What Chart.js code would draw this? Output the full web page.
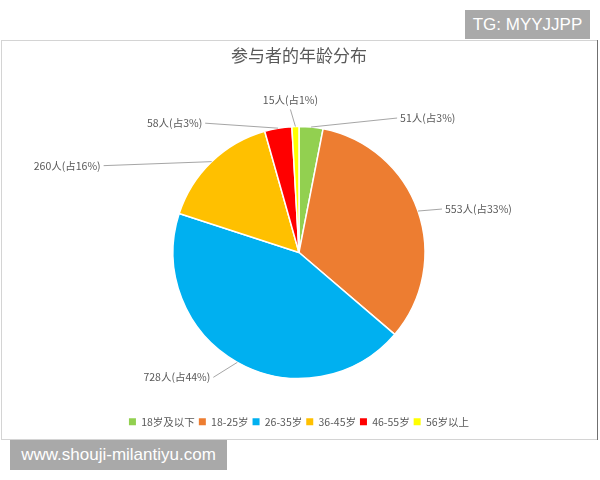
<!DOCTYPE html>
<html>
<head>
<meta charset="utf-8">
<script src="https://cdn.jsdelivr.net/npm/chart.js@4/dist/chart.umd.min.js"></script>
<style>
    body { margin: 0; background: #fff; }
    #wrap { position: relative; width: 600px; height: 480px; }
    .mark { position: absolute; background: #a9a9a9; color: #fff; font-family: "Liberation Sans", Arial, sans-serif;
            font-size: 17px; text-align: center; }
</style>
</head>
<body>
<div id="wrap">
    <canvas id="myPieChart" width="600" height="480"></canvas>
    <div class="mark" style="left:465px; top:10px; width:125px; height:29px; line-height:29px;">TG: MYYJJPP</div>
    <div class="mark" style="left:10px; top:440px; width:217px; height:30px; line-height:30px;">www.shouji-milantiyu.com</div>
</div>
<script>
let title = "参与者的年龄分布";
let ageGroups = ["18岁及以下", "18-25岁", "26-35岁", "36-45岁", "46-55岁", "56岁以上"];
let people = [51, 553, 728, 260, 58, 15];
let colors = ['#92D050', '#ED7D31', '#00B0F0', '#FFC000', '#FF0000', '#FFFF00'];
// where each data label sits, relative to the slice's outer edge point: [dx, dy, align]
let labelOffsets = [[86, -9, 'left'], [24, -2, 'left'], [-24, 15, 'right'], [-108, 4, 'right'], [-73, -5, 'right'], [-5, -17, 'center']];

let canvas = document.getElementById('myPieChart');
let cjk = '"Noto Sans CJK SC", "Noto Sans", sans-serif';
let total = people.reduce((a, b) => a + b, 0);

// white background and the grey frame round the chart
let framePlugin = {
    id: 'frame',
    beforeDraw(chart) {
        let ctx = chart.ctx;
        ctx.save();
        ctx.fillStyle = '#fff';
        ctx.fillRect(0, 0, chart.width, chart.height);
        ctx.strokeStyle = '#d4d4d4';
        ctx.lineWidth = 1;
        ctx.strokeRect(1.5, 40.5, 596, 399);
        ctx.strokeStyle = '#707070';
        ctx.beginPath();
        ctx.moveTo(597.5, 40);
        ctx.lineTo(597.5, 440);
        ctx.stroke();
        ctx.restore();
    }
};

// excel-like data labels with leader lines
let labelPlugin = {
    id: 'sliceLabels',
    afterDatasetsDraw(chart) {
        let ctx = chart.ctx;
        let meta = chart.getDatasetMeta(0);
        ctx.save();
        ctx.font = '10.5px ' + cjk;
        ctx.fillStyle = '#595959';
        ctx.strokeStyle = '#a6a6a6';
        ctx.lineWidth = 1;
        for (let i = 0; i < meta.data.length; i++) {
            let arc = meta.data[i].getProps(['x', 'y', 'startAngle', 'endAngle', 'outerRadius'], true);
            let mid = (arc.startAngle + arc.endAngle) / 2;
            let ax = arc.x + Math.cos(mid) * arc.outerRadius;
            let ay = arc.y + Math.sin(mid) * arc.outerRadius;
            let off = labelOffsets[i];
            let ex = ax + off[0];
            let ey = ay + off[1];
            ctx.beginPath();
            ctx.moveTo(ax, ay);
            ctx.lineTo(ex, ey);
            ctx.stroke();
            let text = people[i] + "人(占" + Math.round(people[i] / total * 100) + "%)";
            ctx.textBaseline = 'middle';
            if (off[2] === 'left') {
                ctx.textAlign = 'left';
                ctx.fillText(text, ex + 3, ey);
            } else if (off[2] === 'right') {
                ctx.textAlign = 'right';
                ctx.fillText(text, ex - 3, ey);
            } else {
                ctx.textAlign = 'center';
                ctx.fillText(text, ex, ey - 9);
            }
        }
        ctx.restore();
    }
};

let pieChart = new Chart(canvas, {
    type: 'pie',
    data: {
        labels: ageGroups,
        datasets: [{
            data: people,
            backgroundColor: colors,
            borderColor: '#fff',
            borderWidth: 1.5,
            radius: 126
        }]
    },
    options: {
        responsive: false,
        animation: false,
        layout: {
            padding: { top: 0, bottom: 43, left: 0, right: 2 }
        },
        plugins: {
            title: {
                display: true,
                text: title,
                color: '#595959',
                font: { family: cjk, size: 17, weight: 'normal' },
                padding: { top: 45, bottom: 27 }
            },
            legend: {
                position: 'bottom',
                labels: {
                    boxWidth: 7,
                    boxHeight: 7,
                    padding: 4,
                    color: '#595959',
                    font: { family: cjk, size: 10.5 },
                    generateLabels(chart) {
                        let items = Chart.overrides.pie.plugins.legend.labels.generateLabels(chart);
                        items.forEach(it => { it.lineWidth = 0; it.strokeStyle = it.fillStyle; });
                        return items;
                    }
                }
            },
            tooltip: { enabled: false }
        }
    },
    plugins: [framePlugin, labelPlugin]
});
</script>
</body>
</html>
